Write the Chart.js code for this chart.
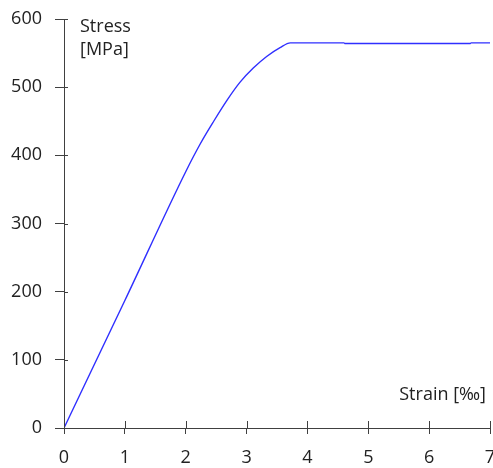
<!DOCTYPE html>
<html>
<head>
<meta charset="utf-8">
<script src="https://cdn.jsdelivr.net/npm/chart.js@4"></script>
<style>
  html, body { margin: 0; padding: 0; background: #fff; }
  #wrap { width: 493px; height: 468px; position: relative; }
</style>
</head>
<body>
<div id="wrap"><canvas id="stressChart"></canvas></div>
<script>
// strain in per mille, stress in MPa
const strain = [0, 1, 2, 2.24, 2.46, 2.68, 2.89, 3.11, 3.33, 3.55, 3.72, 4.6, 4.62, 6.67, 6.69, 7];
const stress = [0, 187, 376, 417, 450, 481, 507, 528, 545, 558, 565, 565, 564, 564, 565, 565];

const xTicks = [0, 1, 2, 3, 4, 5, 6, 7];
const yTicks = [0, 100, 200, 300, 400, 500, 600];

const yTitle = ["Stress", "[MPa]"];
const xTitle = "Strain [‰]";

const FONT = "'Open Sans', sans-serif";
const AXIS_COLOR = "#404040";

// ticks in the reference cross the axis, so draw the inner half too
const innerTicks = {
    id: "innerTicks",
    afterDraw(chart) {
        const ctx = chart.ctx;
        const { x, y } = chart.scales;
        ctx.save();
        ctx.strokeStyle = AXIS_COLOR;
        ctx.lineWidth = 1;
        ctx.beginPath();
        yTicks.forEach(v => {
            const py = Math.round(y.getPixelForValue(v)) + 0.5;
            ctx.moveTo(x.left, py);
            ctx.lineTo(x.left + 4, py);
        });
        xTicks.forEach(v => {
            const px = Math.round(x.getPixelForValue(v)) + 0.5;
            ctx.moveTo(px, y.bottom);
            ctx.lineTo(px, y.bottom - 7);
        });
        ctx.stroke();

        // axis titles sit inside the plot area
        ctx.fillStyle = "#222";
        ctx.font = "18px " + FONT;
        ctx.textAlign = "left";
        ctx.textBaseline = "alphabetic";
        ctx.fillText(yTitle[0], x.left + 16, y.top + 13);
        ctx.fillText(yTitle[1], x.left + 16, y.top + 36);
        ctx.textAlign = "right";
        ctx.fillText(xTitle, x.right - 4, y.bottom - 28);
        ctx.restore();
    }
};

const ctx = document.getElementById("stressChart").getContext("2d");
new Chart(ctx, {
    type: "line",
    data: {
        datasets: [{
            data: strain.map((s, i) => ({ x: s, y: stress[i] })),
            borderColor: "#2f2fff",
            borderWidth: 1.4,
            pointRadius: 0,
            fill: false,
            tension: 0.2,
            cubicInterpolationMode: "monotone"
        }]
    },
    options: {
        responsive: true,
        maintainAspectRatio: false,
        animation: false,
        layout: { padding: { top: 19, right: 3, left: 0, bottom: 0 } },
        plugins: {
            legend: { display: false },
            tooltip: { enabled: false }
        },
        scales: {
            x: {
                type: "linear",
                min: 0,
                max: 7,
                afterFit: scale => {
                    scale.height = 40;
                    scale.paddingLeft = 0;
                    scale.paddingRight = 0;
                },
                afterBuildTicks: scale => { scale.ticks = xTicks.map(v => ({ value: v })); },
                grid: { drawOnChartArea: false, tickLength: 6, color: AXIS_COLOR },
                border: { color: AXIS_COLOR, width: 1 },
                ticks: { color: "#222", font: { family: FONT, size: 18 }, padding: 13, maxRotation: 0 }
            },
            y: {
                min: 0,
                max: 600,
                afterFit: scale => {
                    scale.width = 64;
                    scale.paddingTop = 0;
                    scale.paddingBottom = 0;
                },
                afterBuildTicks: scale => { scale.ticks = yTicks.map(v => ({ value: v })); },
                grid: { drawOnChartArea: false, tickLength: 9, color: AXIS_COLOR },
                border: { color: AXIS_COLOR, width: 1 },
                ticks: { color: "#222", font: { family: FONT, size: 18 }, padding: 13 }
            }
        }
    },
    plugins: [innerTicks]
});
</script>
</body>
</html>
